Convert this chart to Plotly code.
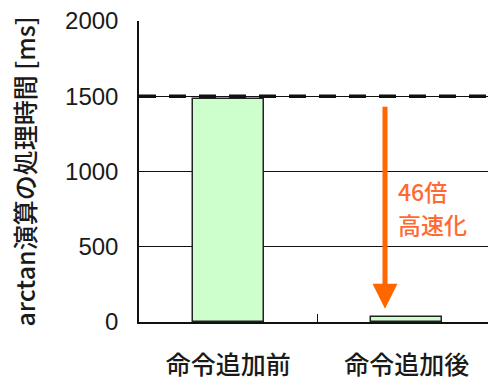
import plotly.graph_objects as go

categories = ["命令追加前", "命令追加後"]
times_ms = [1480, 32]
baseline_ms = 1500
speedup_lines = ["46倍", "高速化"]
speedup_line_y = [868, 652]
arrow_from_ms = 1440
arrow_to_ms = 88
y_ticks = [0, 500, 1000, 1500, 2000]

FONT = "Liberation Sans, Arial, Noto Sans CJK JP"
CJK = "Noto Sans CJK JP, Liberation Sans"

fig = go.Figure()
fig.add_trace(go.Bar(
    x=categories, y=times_ms, width=0.4,
    marker=dict(color="#CCFFCC", line=dict(color="#222222", width=1.5)),
    hoverinfo="skip",
))

fig.add_shape(type="line", xref="paper", yref="y", x0=0, x1=1,
              y0=baseline_ms, y1=baseline_ms,
              line=dict(color="#111111", width=3.5, dash="17px,13px"))

arrow_x = 0.878
fig.add_annotation(x=arrow_x, y=arrow_to_ms, ax=arrow_x, ay=arrow_from_ms,
                   xref="x", yref="y", axref="x", ayref="y",
                   showarrow=True, arrowhead=2, arrowsize=1.0, arrowwidth=5,
                   arrowcolor="#FF6600", text="")
for txt, yv in zip(speedup_lines, speedup_line_y):
    fig.add_annotation(x=0.945, y=yv, xref="x", yref="y", text=txt,
                       showarrow=False, xanchor="left", yanchor="middle", align="left",
                       borderpad=0,
                       font=dict(family=CJK, size=23, color="#FF6A33", weight=500))

fig.update_layout(
    width=488, height=381,
    margin=dict(l=139, r=0, t=21, b=59),
    plot_bgcolor="white", paper_bgcolor="white",
    showlegend=False,
    bargap=0,
)
fig.update_xaxes(
    type="category",
    range=[-0.5, 1.455],
    showline=True, linecolor="#111111", linewidth=1.5,
    ticks="inside", tickson="boundaries", ticklen=8, tickcolor="#111111",
    ticklabelstandoff=20,
    showgrid=False, zeroline=False,
    tickfont=dict(family=CJK, size=25, color="#1a1a1a", weight=500),
)
fig.update_yaxes(
    range=[0, 2000], tickvals=y_ticks,
    showline=True, linecolor="#111111", linewidth=1.5,
    showgrid=True, gridcolor="#111111", gridwidth=1,
    zeroline=False, ticks="", ticklabelstandoff=14,
    tickfont=dict(family=FONT, size=24, color="#1a1a1a"),
    title=dict(text="arctan演算の処理時間 [ms]", standoff=22,
               font=dict(family=CJK, size=25, color="#1a1a1a", weight=500)),
)

fig.write_html("out.html")
